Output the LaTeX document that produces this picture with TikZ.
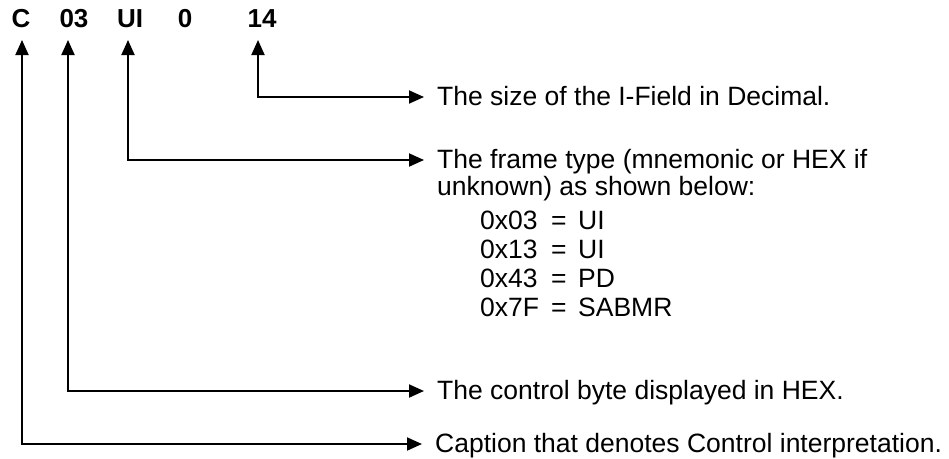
\documentclass[tikz,border=0pt]{standalone}
\usepackage{fontspec}
\setmainfont{Liberation Sans}
\usetikzlibrary{arrows.meta}
\begin{document}
\begin{tikzpicture}[x=1pt,y=-1pt,
  lbl/.style={font=\fontsize{26}{26}\selectfont\bfseries, anchor=base, inner sep=0pt},
  txt/.style={font=\fontsize{26.5}{26.5}\selectfont, anchor=base west, inner sep=0pt},
  conn/.style={line width=1.9pt, {Triangle[length=15pt,width=13pt]}-{Triangle[length=15pt,width=13pt]}}
]
\useasboundingbox (0,0) rectangle (949,458);
% top labels
\node[lbl] (lC)  at (21,27)  {C};
\node[lbl] (l03) at (74,27)  {03};
\node[lbl] (lUI) at (130,27) {UI};
\node[lbl] (l0)  at (185,27) {0};
\node[lbl] (l14) at (262,27) {14};
% arrow tips
\coordinate (aC)  at (22,40);
\coordinate (a03) at (68,40);
\coordinate (aUI) at (128,40);
\coordinate (a14) at (258,40);
% texts
\node[txt] (t14) at (437,105) {The size of the I-Field in Decimal.};
\node[txt] (tUI) at (437,168) {The frame type (mnemonic or HEX if};
\node[txt] (tUI2) at (437,195) {unknown) as shown below:};
\node[txt] (k1) at (480,229) {0x03};
\node[txt] (e1) at (551,229) {=};
\node[txt] (v1) at (578,229) {UI};
\node[txt] (k2) at (480,258) {0x13};
\node[txt] (e2) at (551,258) {=};
\node[txt] (v2) at (578,258) {UI};
\node[txt] (k3) at (480,287) {0x43};
\node[txt] (e3) at (551,287) {=};
\node[txt] (v3) at (578,287) {PD};
\node[txt] (k4) at (480,316) {0x7F};
\node[txt] (e4) at (551,316) {=};
\node[txt] (v4) at (578,316) {SABMR};
\node[txt] (t03) at (437,399) {The control byte displayed in HEX.};
\node[txt] (tC) at (435,452) {Caption that denotes Control interpretation.};
% connectors
\coordinate (e14) at ([xshift=-13pt,yshift=8pt]t14.base west);
\coordinate (eUI) at ([xshift=-13pt,yshift=8pt]tUI.base west);
\coordinate (e03) at ([xshift=-13pt,yshift=8pt]t03.base west);
\coordinate (eC)  at ([xshift=-13pt,yshift=8pt]tC.base west);
\draw[conn] (a14) |- (e14);
\draw[conn] (aUI) |- (eUI);
\draw[conn] (a03) |- (e03);
\draw[conn] (aC)  |- (eC);
\end{tikzpicture}
\end{document}
